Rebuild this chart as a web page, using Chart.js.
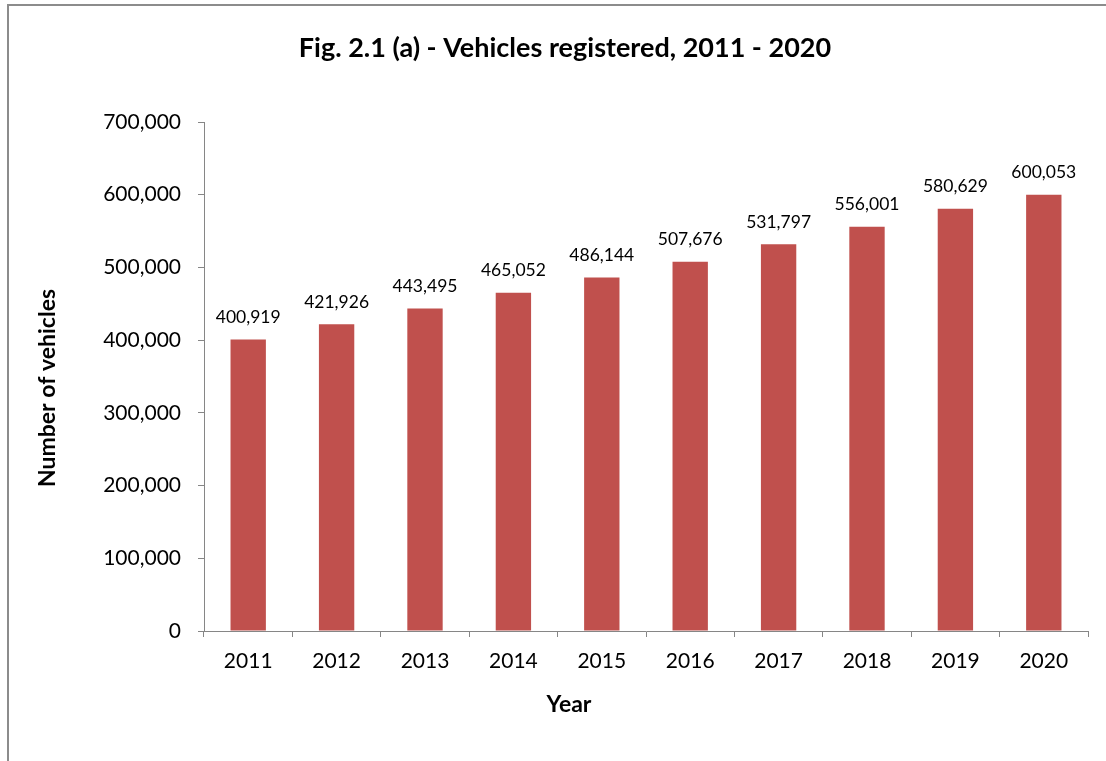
<!DOCTYPE html>
<html>
<head>
<meta charset="utf-8">
<script src="https://cdn.jsdelivr.net/npm/chart.js@4"></script>
<style>
    html, body { margin: 0; padding: 0; background: #fff; overflow: hidden; }
    #frame { position: absolute; left: 7px; top: 4px; width: 2000px; height: 2000px; border: 2px solid #8c8c8c; pointer-events: none; }
    #myChart { position: absolute; left: 0; top: 0; }
</style>
</head>
<body>
<div id="frame"></div>
<canvas id="myChart" width="1106" height="761"></canvas>
<script>
const years = ['2011', '2012', '2013', '2014', '2015', '2016', '2017', '2018', '2019', '2020'];
const vehicles = [400919, 421926, 443495, 465052, 486144, 507676, 531797, 556001, 580629, 600053];
const yTicks = [0, 100000, 200000, 300000, 400000, 500000, 600000, 700000];

const chartTitle = 'Fig. 2.1 (a) - Vehicles registered, 2011 - 2020';
const xTitle = 'Year';
const yTitle = 'Number of vehicles';

const fontName = 'Lato, "Open Sans", sans-serif';
const axisGray = '#868686';

function formatNumber(n) {
    return n.toLocaleString('en-US');
}

// titles and value labels drawn on top of the bars
const textPlugin = {
    id: 'textPlugin',
    afterDatasetsDraw(chart) {
        const ctx = chart.ctx;
        ctx.save();
        ctx.fillStyle = '#000';
        ctx.textAlign = 'center';
        ctx.textBaseline = 'middle';

        ctx.font = `17.5px ${fontName}`;
        chart.getDatasetMeta(0).data.forEach((bar, i) => {
            ctx.fillText(formatNumber(vehicles[i]), bar.x, bar.y - 22);
        });

        ctx.font = `bold 27px ${fontName}`;
        ctx.fillText(chartTitle, 565, 48);

        ctx.font = `bold 23px ${fontName}`;
        ctx.fillText(xTitle, 569, 705);

        ctx.translate(48, 388);
        ctx.rotate(-Math.PI / 2);
        ctx.fillText(yTitle, 0, 0);
        ctx.restore();
    }
};

new Chart(document.getElementById('myChart'), {
    type: 'bar',
    data: {
        labels: years,
        datasets: [{
            data: vehicles,
            backgroundColor: '#C0504D',
            borderWidth: 0,
            categoryPercentage: 1,
            barPercentage: 0.4
        }]
    },
    options: {
        responsive: false,
        animation: false,
        layout: {
            padding: { top: 122, right: 18, bottom: 0, left: 0 }
        },
        plugins: {
            legend: { display: false },
            title: { display: false },
            tooltip: { enabled: false }
        },
        scales: {
            x: {
                grid: {
                    drawOnChartArea: false,
                    drawTicks: true,
                    tickLength: 6,
                    color: axisGray
                },
                border: { color: axisGray, width: 1 },
                ticks: {
                    color: '#000',
                    padding: 12,
                    font: { family: fontName, size: 21 }
                },
                afterFit(scale) {
                    scale.height = 130;
                }
            },
            y: {
                min: 0,
                max: 700000,
                grid: {
                    drawOnChartArea: false,
                    drawTicks: true,
                    tickLength: 6,
                    color: axisGray
                },
                border: { color: axisGray, width: 1 },
                ticks: {
                    color: '#000',
                    padding: 17,
                    font: { family: fontName, size: 21 },
                    callback: (value) => formatNumber(value)
                },
                afterBuildTicks(scale) {
                    scale.ticks = yTicks.map(v => ({ value: v }));
                },
                afterFit(scale) {
                    scale.width = 204;
                }
            }
        }
    },
    plugins: [textPlugin]
});
</script>
</body>
</html>
